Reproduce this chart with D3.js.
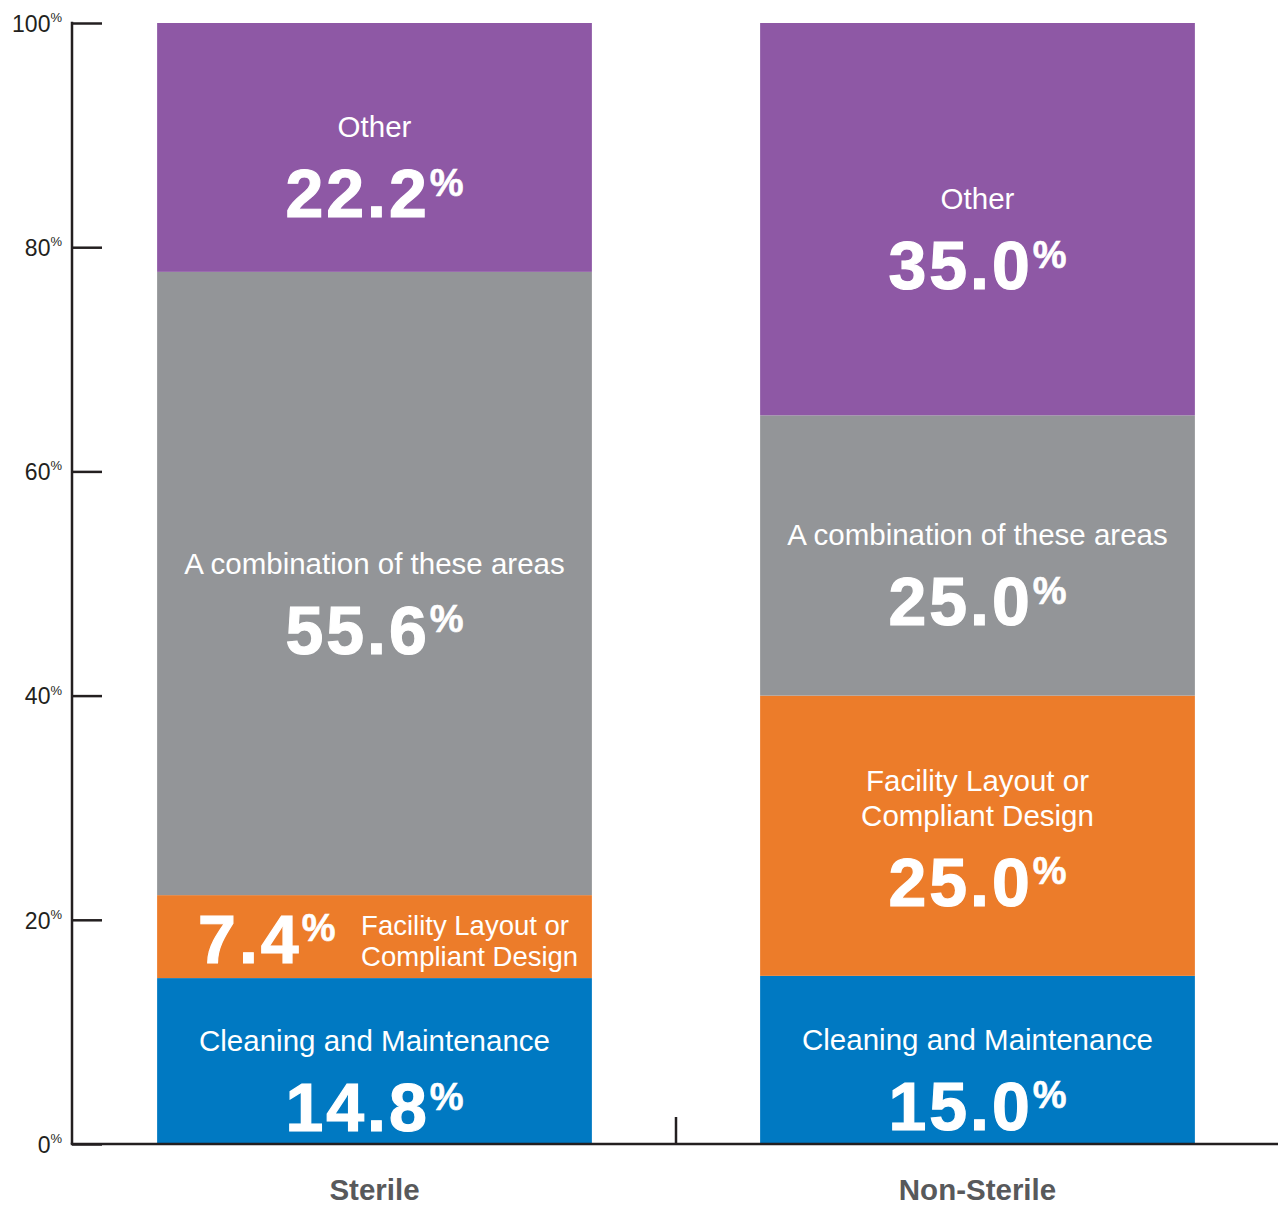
<!DOCTYPE html>
<html>
<head>
<meta charset="utf-8">
<script src="https://cdn.jsdelivr.net/npm/d3@7"></script>
<style>
  html, body { margin: 0; padding: 0; background: #fff; }
  svg { display: block; }
  text { font-family: "Liberation Sans", Arial, Helvetica, sans-serif; }
</style>
</head>
<body>
<svg id="chart" width="1278" height="1205"></svg>
<script>
// ---- data ----
const categories = ["Sterile", "Non-Sterile"];
const seriesNames = ["Cleaning and Maintenance", "Facility Layout or Compliant Design", "A combination of these areas", "Other"];
const seriesLabelLines = [["Cleaning and Maintenance"], ["Facility Layout or", "Compliant Design"], ["A combination of these areas"], ["Other"]];
const sterileValues = [14.8, 7.4, 55.6, 22.2];
const nonSterileValues = [15.0, 25.0, 25.0, 35.0];
const seriesColors = ["#0079C2", "#EC7C2A", "#939598", "#8E58A5"];
const yTicks = [0, 20, 40, 60, 80, 100];

// ---- setup ----
const svg = d3.select("#chart");
const W = 1278, H = 1205;
const axisX = 72, yTop = 23, yBottom = 1144;

const rows = categories.map((c, i) => {
  const vals = i === 0 ? sterileValues : nonSterileValues;
  const o = { category: c };
  seriesNames.forEach((s, j) => o[s] = vals[j]);
  return o;
});
const stacked = d3.stack().keys(seriesNames)(rows);

const x = d3.scaleBand().domain(categories).range([73, 1279]).paddingInner(0.279).paddingOuter(0.1395);
const y = d3.scaleLinear().domain([0, 100]).range([yBottom, yTop]);

// bars
const layer = svg.append("g").selectAll("g").data(stacked).join("g")
  .attr("fill", (d, i) => seriesColors[i]);
layer.selectAll("rect").data(d => d.map(p => ({ p, key: d.key })))
  .join("rect")
  .attr("x", d => x(d.p.data.category))
  .attr("y", d => y(d.p[1]))
  .attr("width", x.bandwidth())
  .attr("height", d => y(d.p[0]) - y(d.p[1]));

// labels inside segments
const bigSize = 68, pctSize = 38, labSize = 29.5, lineH = 35;
function valueText(g, xPos, yBase, v, anchor) {
  const t = g.append("text")
    .attr("x", xPos).attr("y", yBase)
    .attr("fill", "#fff").attr("font-weight", "bold")
    .attr("stroke", "#fff").attr("stroke-width", 1.2)
    .attr("text-anchor", anchor)
    .attr("font-size", bigSize)
    .attr("letter-spacing", "3px");
  t.append("tspan").text(v.toFixed(1));
  t.append("tspan").attr("font-size", pctSize).attr("letter-spacing", "0px").attr("stroke-width", 0.6)
    .attr("dy", -(bigSize - pctSize) * 0.716).attr("dx", 0).text("%");
  return t;
}

const labelsG = svg.append("g");
stacked.forEach((s, si) => {
  s.forEach(p => {
    const cat = p.data.category;
    const x0 = x(cat), bw = x.bandwidth();
    const top = y(p[1]), bot = y(p[0]);
    const h = bot - top;
    const v = p[1] - p[0];
    const lines = seriesLabelLines[si];
    if (h < 120) {
      // inline layout: value left, label right
      const cy = (top + bot) / 2;
      valueText(labelsG, x0 + 41, cy + 26, v, "start");
      const lt = labelsG.append("text").attr("fill", "#fff").attr("font-size", 27.5)
        .attr("x", x0 + 204).attr("y", cy - 2);
      lines.forEach((l, k) => lt.append("tspan").attr("x", x0 + 204).attr("dy", k === 0 ? 0 : 31).text(l));
    } else {
      const cx = x0 + bw / 2;
      const cy = (top + bot) / 2;
      const n = lines.length;
      const firstBase = cy - 10 - (n - 1) * lineH;
      const lt = labelsG.append("text").attr("fill", "#fff").attr("font-size", labSize)
        .attr("text-anchor", "middle");
      lines.forEach((l, k) => lt.append("tspan").attr("x", cx).attr("y", firstBase + k * lineH).text(l));
      valueText(labelsG, cx, cy + 70, v, "middle");
    }
  });
});

// y axis
const axisColor = "#231F20";
const yAxis = d3.axisLeft(y).tickValues(yTicks).tickSize(-30).tickPadding(10).tickFormat(d => d);
const ag = svg.append("g").attr("transform", `translate(${axisX},0)`).call(yAxis);
ag.select(".domain").remove();
ag.selectAll(".tick line").attr("stroke", axisColor).attr("stroke-width", 2.5);
ag.selectAll(".tick text").each(function(d) {
  const t = d3.select(this);
  t.text(null)
    .attr("x", -10).attr("dy", "0.36em")
    .attr("font-size", 23).attr("fill", axisColor)
    .attr("font-family", "'Liberation Sans', Arial, sans-serif")
    .attr("text-anchor", "end");
  t.append("tspan").text(d);
  t.append("tspan").attr("font-size", 13).attr("dy", "-0.75em").text("%");
});

svg.append("line").attr("x1", axisX).attr("x2", axisX).attr("y1", yTop - 1.25).attr("y2", yBottom)
  .attr("stroke", axisColor).attr("stroke-width", 2.5);
svg.append("line").attr("x1", axisX - 1.25).attr("x2", W).attr("y1", yBottom).attr("y2", yBottom)
  .attr("stroke", axisColor).attr("stroke-width", 2.5);
// divider tick between bands
const divX = x(categories[1]) - x.step() * x.paddingInner() / 2;
svg.append("line").attr("x1", divX).attr("x2", divX).attr("y1", yBottom - 27).attr("y2", yBottom)
  .attr("stroke", axisColor).attr("stroke-width", 2.5);

// category labels
svg.append("g").selectAll("text").data(categories).join("text")
  .attr("x", d => x(d) + x.bandwidth() / 2)
  .attr("y", 1200)
  .attr("text-anchor", "middle")
  .attr("font-weight", "bold")
  .attr("font-size", 29.5)
  .attr("fill", "#58595B")
  .text(d => d);
</script>
</body>
</html>
